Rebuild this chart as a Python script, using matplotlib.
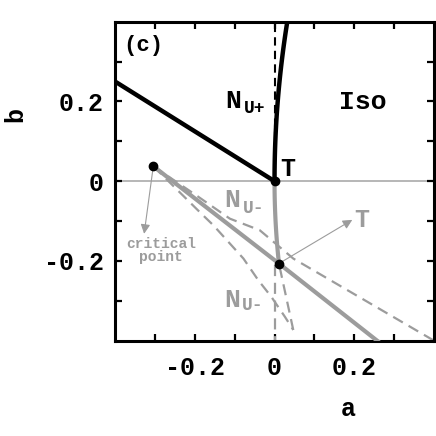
import matplotlib
matplotlib.use("Agg")
import matplotlib.pyplot as plt
import numpy as np

plt.rcParams["font.family"] = ["Liberation Mono", "DejaVu Sans Mono"]
plt.rcParams["font.weight"] = "bold"
plt.rcParams["axes.labelweight"] = "bold"

GRAY = "#9c9c9c"

# phase boundary data (a, b)
nu_plus_a = [-0.4, 0.0]
nu_plus_b = [0.25, 0.0]

iso_b = np.linspace(0.0, 0.4, 30)
iso_a = 0.2 * iso_b ** 2

num_b = np.linspace(0.0, -0.2065, 30)
num_a = 0.26 * num_b ** 2

first_order_a = [-0.304, 0.011, 0.27]
first_order_b = [0.0375, -0.2065, -0.41]

spin_upper_a = [-0.304, -0.2, -0.112, -0.037, 0.047, 0.40]
spin_upper_b = [0.0375, -0.033, -0.094, -0.123, -0.194, -0.40]

spin_lower_a = [-0.304, -0.187, -0.153, -0.078, -0.041, -0.008, 0.026, 0.047]
spin_lower_b = [0.0375, -0.078, -0.111, -0.194, -0.248, -0.290, -0.340, -0.373]

cusp_a = [0.047, 0.011]
cusp_b = [-0.373, -0.2065]

vert_a = [0.0, 0.0]
vert_b = [-0.21, -0.40]

nu_dash_a = [0.0, 0.0]
nu_dash_b = [0.0, 0.40]

points_a = [0.0, -0.304, 0.011]
points_b = [0.0, 0.0375, -0.2065]

xticks = [-0.3, -0.2, -0.1, 0.0, 0.1, 0.2, 0.3]
yticks = [-0.3, -0.2, -0.1, 0.0, 0.1, 0.2, 0.3]


def fmt_tick(v):
    if abs(v) < 1e-9:
        return "0"
    if abs(round(v / 0.2) * 0.2 - v) < 1e-9:
        return f"{v:.1f}"
    return ""


fig = plt.figure(figsize=(4.36, 4.36), dpi=100)
ax = fig.add_axes([0.2638, 0.2186, 0.7317, 0.7317])

ax.axhline(0, color="#aaaaaa", lw=1.2, zorder=1)

dash = (0, (5, 3))
ax.plot(spin_upper_a, spin_upper_b, color=GRAY, lw=1.6, ls=dash, zorder=2)
ax.plot(spin_lower_a, spin_lower_b, color=GRAY, lw=1.6, ls=dash, zorder=2)
ax.plot(cusp_a, cusp_b, color=GRAY, lw=1.6, ls=dash, zorder=2)
ax.plot(vert_a, vert_b, color=GRAY, lw=1.6, ls=dash, zorder=2)

ax.plot(first_order_a, first_order_b, color=GRAY, lw=3.0, zorder=3,
        solid_capstyle="butt")
ax.plot(num_a, num_b, color=GRAY, lw=3.0, zorder=3)

ax.plot(nu_dash_a, nu_dash_b, color="black", lw=1.5, ls=(0, (4, 2.5)), zorder=3)
ax.plot(nu_plus_a, nu_plus_b, color="black", lw=3.2, zorder=4)
ax.plot(iso_a, iso_b, color="black", lw=3.2, zorder=4)

ax.plot(points_a, points_b, "o", color="black", ms=6, zorder=5)

arrow = dict(arrowstyle="-|>", color=GRAY, lw=0.8, mutation_scale=14,
             shrinkA=0, shrinkB=0)
ax.annotate("", xy=(-0.327, -0.132), xytext=(-0.304, 0.0375), arrowprops=arrow)
ax.annotate("", xy=(0.195, -0.097), xytext=(0.011, -0.2065), arrowprops=arrow)

ax.text(-0.329, 0.339, "(c)", fontsize=16, ha="center", va="center")
ax.text(0.221, 0.199, "Iso", fontsize=19, ha="center", va="center")
ax.text(-0.103, 0.202, "N", fontsize=19, ha="center", va="center")
ax.text(-0.049, 0.183, "U+", fontsize=13, ha="center", va="center")
ax.text(0.033, 0.0305, "T", fontsize=18, ha="center", va="center")

ax.text(-0.106, -0.047, "N", fontsize=19, ha="center", va="center", color=GRAY)
ax.text(-0.053, -0.068, "U-", fontsize=13, ha="center", va="center", color=GRAY)
ax.text(-0.107, -0.298, "N", fontsize=19, ha="center", va="center", color=GRAY)
ax.text(-0.054, -0.313, "U-", fontsize=13, ha="center", va="center", color=GRAY)
ax.text(0.218, -0.098, "T", fontsize=18, ha="center", va="center", color=GRAY)
ax.text(-0.284, -0.173, "critical\npoint", fontsize=10.5, ha="center",
        va="center", color=GRAY, linespacing=0.9)

ax.set_xlim(-0.4, 0.4)
ax.set_ylim(-0.4, 0.4)
ax.set_xticks(xticks)
ax.set_yticks(yticks)
ax.set_xticklabels([fmt_tick(v) for v in xticks])
ax.set_yticklabels([fmt_tick(v) for v in yticks])
ax.tick_params(direction="in", length=5, width=1.6, top=True, right=True,
               labelsize=18, pad=8)
ax.tick_params(axis="x", pad=11)
for s in ax.spines.values():
    s.set_linewidth(2.2)

ax.set_xlabel("a", fontsize=18, fontweight="bold")
ax.set_ylabel("b", fontsize=18, fontweight="bold")
ax.xaxis.set_label_coords(0.73, -0.176)
ax.yaxis.set_label_coords(-0.275, 0.71)

fig.savefig("out.png", dpi=100)
